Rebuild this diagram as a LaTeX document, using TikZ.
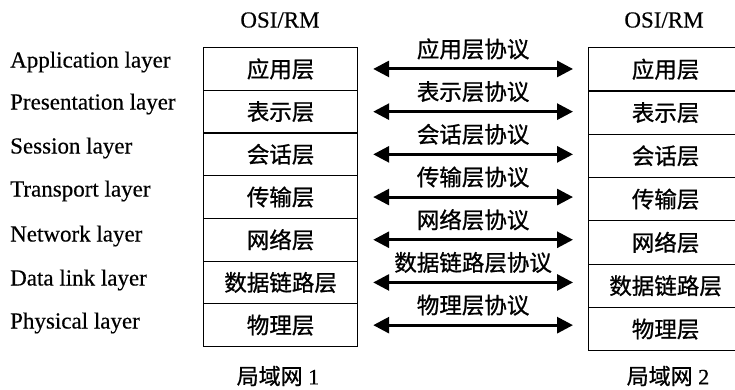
\documentclass[tikz,border=0pt]{standalone}
\usepackage{fontspec}
\setmainfont{Liberation Serif}[FakeBold=0.4]
\newfontfamily\cjk{Noto Sans CJK SC}[FakeBold=0.9]
\usetikzlibrary{arrows.meta}
\begin{document}
\begin{tikzpicture}[x=1pt,y=-1pt,
  layer/.style={draw, line width=1.2pt, minimum width=154pt, minimum height=42.7pt, inner sep=0pt, font=\fontsize{22.5}{22.5}\selectfont\cjk},
  eng/.style={anchor=west, inner sep=0pt, font=\fontsize{23}{23}\selectfont},
  cjklbl/.style={inner sep=0pt, font=\fontsize{22.5}{22.5}\selectfont\cjk},
  proto/.style={line width=3pt, shorten <=15pt, shorten >=15pt,
    {Triangle[length=16pt,width=16pt]}-{Triangle[length=16pt,width=16pt]}}]
\useasboundingbox (0,0) rectangle (735,389);
\foreach \i/\t in {1/应用层,2/表示层,3/会话层,4/传输层,5/网络层,6/数据链路层,7/物理层}{
  \node[layer, anchor=north west] (L\i) at (203,{47+(\i-1)*42.7}) {\raisebox{-4pt}{\t}};
  \node[layer, minimum height=43.3pt, anchor=north west] (R\i) at (588,{47+(\i-1)*43.3}) {\raisebox{-4pt}{\t}};
  \draw[proto] (L\i.east) -- (L\i.east -| R\i.west)
    node[cjklbl, midway, yshift=20pt] (P\i) {\t 协议};
}
\foreach \i/\t/\y in {1/Application layer/62,2/Presentation layer/104,3/Session layer/148,4/Transport layer/191,5/Network layer/236,6/Data link layer/280,7/Physical layer/323}{
  \node[eng] (E\i) at (10,\y) {\t};
}
\node[inner sep=0pt, font=\fontsize{23}{23}\selectfont] (H1) at (280,20) {OSI/RM};
\node[inner sep=0pt, font=\fontsize{23}{23}\selectfont] (H2) at (664,20) {OSI/RM};
\node[inner sep=0pt, font=\fontsize{22}{22}\selectfont] (N1) at (278,376) {{\cjk 局域网} 1};
\node[inner sep=0pt, font=\fontsize{22}{22}\selectfont] (N2) at (668,376) {{\cjk 局域网} 2};
\end{tikzpicture}
\end{document}
